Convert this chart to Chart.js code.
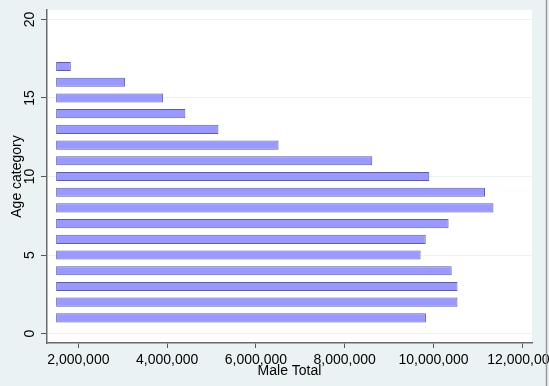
<!DOCTYPE html>
<html>
<head>
<meta charset="utf-8">
<script src="https://cdn.jsdelivr.net/npm/chart.js@4/dist/chart.umd.min.js"></script>
<style>
  html, body { margin: 0; padding: 0; background: #EAF2F3; }
  #wrap { width: 549px; height: 386px; position: relative; }
  canvas { display: block; }
</style>
</head>
<body>
<div id="wrap"><canvas id="c" width="549" height="386"></canvas></div>
<script>
// Data
const ageCategories = [1, 2, 3, 4, 5, 6, 7, 8, 9, 10, 11, 12, 13, 14, 15, 16, 17];
const maleTotal = [9830000, 10540000, 10540000, 10410000, 9710000, 9825000, 10340000, 11350000, 11160000, 9905000, 8620000, 6510000, 5155000, 4410000, 3910000, 3050000, 1830000];
const barBase = 1500000;
const xTicks = [2000000, 4000000, 6000000, 8000000, 10000000, 12000000];
const yTicks = [0, 5, 10, 15, 20];

const FONT = 'Liberation Sans, Arial, sans-serif';

const plotBg = {
  id: 'plotBg',
  beforeDraw(chart) {
    const {ctx, chartArea: a} = chart;
    ctx.save();
    ctx.fillStyle = '#ffffff';
    ctx.fillRect(a.left, a.top, a.right - a.left, a.bottom - a.top);
    ctx.restore();
  },
  afterDraw(chart) {
    const ctx = chart.ctx;
    ctx.save();
    ctx.strokeStyle = '#9a9a9a';
    ctx.lineWidth = 1.5;
    ctx.beginPath();
    ctx.moveTo(546.5, 0);
    ctx.lineTo(546.5, 386);
    ctx.stroke();
    ctx.restore();
  }
};

new Chart(document.getElementById('c'), {
  type: 'bar',
  data: {
    datasets: [{
      data: ageCategories.map((a, i) => ({ y: a, x: [barBase, maleTotal[i]] })),
      backgroundColor: '#9999ff',
      borderColor: '#5c5ca6',
      borderWidth: 1,
      borderSkipped: false,
      barPercentage: 0.58,
      categoryPercentage: 1.0
    }]
  },
  options: {
    indexAxis: 'y',
    responsive: false,
    animation: false,
    layout: { padding: { top: 10, right: 17, left: 0, bottom: 0 } },
    plugins: { legend: { display: false }, tooltip: { enabled: false } },
    scales: {
      y: {
        type: 'linear',
        position: 'left',
        min: -0.6,
        max: 20.6,
        offset: false,
        afterBuildTicks(scale) { scale.ticks = yTicks.map(v => ({ value: v })); },
        afterFit(scale) { scale.width = 47; scale.paddingTop = 0; scale.paddingBottom = 0; },
        ticks: {
          minRotation: 90,
          maxRotation: 90,
          crossAlign: 'center',
          padding: 3,
          color: '#000',
          font: { family: FONT, size: 14 },
          callback: v => String(v)
        },
        grid: {
          offset: false,
          color: '#eaf2f3',
          lineWidth: 1,
          tickColor: '#555',
          tickLength: 6,
          tickWidth: 1
        },
        border: { color: '#6a6a6a', width: 1.5 },
        title: {
          display: true,
          text: 'Age category',
          color: '#000',
          font: { family: FONT, size: 14 },
          padding: { top: 9, bottom: 0 }
        }
      },
      x: {
        type: 'linear',
        position: 'bottom',
        min: 1294000,
        max: 12219000,
        beginAtZero: false,
        afterBuildTicks(scale) { scale.ticks = xTicks.map(v => ({ value: v })); },
        afterFit(scale) { scale.height = 43; scale.paddingLeft = 0; scale.paddingRight = 0; },
        ticks: {
          maxRotation: 0,
          minRotation: 0,
          padding: 4,
          color: '#000',
          font: { family: FONT, size: 14 },
          callback: v => Number(v).toLocaleString('en-US')
        },
        grid: {
          drawOnChartArea: false,
          tickColor: '#555',
          tickLength: 5,
          tickWidth: 1
        },
        border: { color: '#6a6a6a', width: 1.5 },
        title: {
          display: true,
          text: 'Male Total',
          color: '#000',
          font: { family: FONT, size: 14 },
          padding: { top: 0, bottom: 6 }
        }
      }
    }
  },
  plugins: [plotBg]
});
</script>
</body>
</html>
